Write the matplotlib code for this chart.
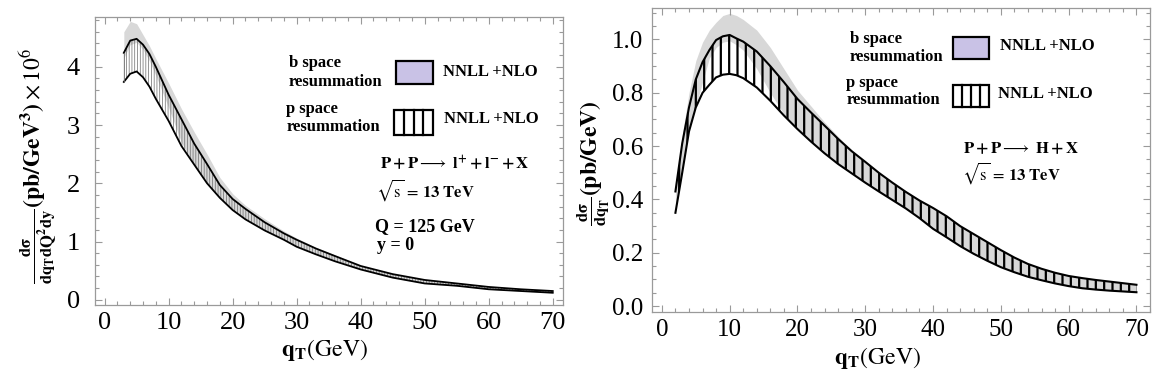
import matplotlib.pyplot as plt
from matplotlib.patches import Rectangle
from matplotlib.lines import Line2D
from matplotlib.ticker import MultipleLocator, FormatStrFormatter

plt.rcParams['font.family'] = ['Liberation Serif', 'DejaVu Serif']
plt.rcParams['mathtext.fontset'] = 'stix'

W, H = 1171, 383

# left panel: P+P -> l+ l- + X, Q = 125 GeV, y = 0
qt_dy = [3, 4, 5, 6, 7, 8, 10, 12, 14, 16, 18, 20, 22, 25, 28, 30, 33, 36, 40, 45, 50, 55, 60, 65, 70]
p_hi_dy = [4.24, 4.45, 4.48, 4.38, 4.22, 4.00, 3.52, 3.10, 2.68, 2.33, 1.97, 1.73, 1.56, 1.33, 1.14,
           1.03, 0.88, 0.75, 0.58, 0.44, 0.34, 0.28, 0.22, 0.18, 0.15]
p_lo_dy = [3.74, 3.88, 3.92, 3.82, 3.66, 3.45, 3.07, 2.64, 2.32, 2.00, 1.75, 1.54, 1.38, 1.19, 1.03,
           0.91, 0.78, 0.66, 0.52, 0.38, 0.28, 0.24, 0.18, 0.15, 0.12]
b_hi_dy = [4.60, 4.78, 4.74, 4.55, 4.36, 4.14, 3.72, 3.28, 2.88, 2.50, 2.10, 1.82, 1.62, 1.39, 1.18,
           1.06, 0.90, 0.77, 0.59, 0.44, 0.34, 0.28, 0.22, 0.18, 0.15]
b_lo_dy = [4.15, 4.38, 4.42, 4.30, 4.10, 3.85, 3.30, 2.70, 2.32, 2.00, 1.75, 1.54, 1.38, 1.19, 1.03,
           0.91, 0.78, 0.66, 0.52, 0.38, 0.28, 0.24, 0.18, 0.15, 0.12]

# right panel: P+P -> H + X
qt_h = [2, 3, 4, 5, 6, 7, 8, 9, 10, 11, 12, 14, 16, 18, 20, 22, 24, 26, 28, 30, 32, 34, 36, 38, 40,
        42, 44, 46, 48, 50, 52, 54, 56, 58, 60, 62, 64, 66, 68, 70]
p_hi_h = [0.43, 0.61, 0.745, 0.85, 0.915, 0.96, 0.998, 1.012, 1.017, 1.004, 0.992, 0.955, 0.90, 0.84,
          0.777, 0.726, 0.677, 0.627, 0.581, 0.541, 0.50, 0.463, 0.428, 0.396, 0.368, 0.337, 0.30,
          0.27, 0.24, 0.21, 0.182, 0.158, 0.14, 0.125, 0.113, 0.105, 0.098, 0.092, 0.086, 0.08]
p_lo_h = [0.35, 0.50, 0.655, 0.745, 0.80, 0.83, 0.858, 0.868, 0.871, 0.866, 0.855, 0.82, 0.77, 0.715,
          0.664, 0.617, 0.573, 0.533, 0.498, 0.463, 0.43, 0.398, 0.366, 0.33, 0.29, 0.258, 0.225,
          0.196, 0.17, 0.146, 0.127, 0.11, 0.097, 0.085, 0.075, 0.067, 0.062, 0.058, 0.055, 0.052]
b_hi_h = [0.45, 0.64, 0.80, 0.92, 0.99, 1.035, 1.065, 1.09, 1.098, 1.09, 1.075, 1.035, 0.97, 0.89,
          0.81, 0.75, 0.69, 0.636, 0.585, 0.541, 0.50, 0.463, 0.428, 0.396, 0.368, 0.337, 0.30,
          0.27, 0.24, 0.21, 0.182, 0.158, 0.14, 0.125, 0.113, 0.105, 0.098, 0.092, 0.086, 0.08]
b_lo_h = [0.355, 0.505, 0.66, 0.75, 0.84, 0.93, 0.97, 0.99, 0.995, 0.98, 0.96, 0.89, 0.80, 0.72,
          0.668, 0.617, 0.573, 0.533, 0.498, 0.463, 0.43, 0.398, 0.366, 0.33, 0.29, 0.258, 0.225,
          0.196, 0.17, 0.146, 0.127, 0.11, 0.097, 0.085, 0.075, 0.067, 0.062, 0.058, 0.055, 0.052]

grey = '#d8d8d8'
lavender = '#c9c2e6'
frame = '#9a9a9a'

fig = plt.figure(figsize=(W / 100, H / 100), dpi=100)
ax1 = fig.add_axes([95 / W, 1 - 305 / H, (563 - 95) / W, (305 - 16.7) / H])
ax2 = fig.add_axes([651.7 / W, 1 - 311.7 / H, (1150 - 651.7) / W, (311.7 - 8.3) / H])


def hatched_band(ax, q, lo, hi, dens, color, lw):
    plt.rcParams['hatch.linewidth'] = lw
    plt.rcParams['hatch.color'] = color
    band = ax.fill_between(q, lo, hi, facecolor='none', edgecolor=color, linewidth=0, hatch=dens)
    if hasattr(band, 'set_hatch_linewidth'):
        band.set_hatch_linewidth(lw)
    return band


# left
ax1.fill_between(qt_dy, b_lo_dy, b_hi_dy, color=grey, linewidth=0)
hatched_band(ax1, qt_dy, p_lo_dy, p_hi_dy, '||||||', '#6a6a6a', 0.5)
ax1.plot(qt_dy, p_hi_dy, color='black', lw=1.3)
ax1.plot(qt_dy, p_lo_dy, color='black', lw=1.3)
ax1.plot([qt_dy[0], qt_dy[0]], [p_lo_dy[0], p_hi_dy[0]], color='#6a6a6a', lw=0.6)

# right
ax2.fill_between(qt_h, b_lo_h, b_hi_h, color=grey, linewidth=0)
hatched_band(ax2, qt_h, p_lo_h, p_hi_h, '||', 'black', 1.6)
ax2.plot(qt_h, p_hi_h, color='black', lw=1.5)
ax2.plot(qt_h, p_lo_h, color='black', lw=1.5)

ax1.set_xlim(-1.5, 71.6)
ax1.set_ylim(-0.09, 4.86)
ax2.set_xlim(-1.5, 72.0)
ax2.set_ylim(-0.021, 1.117)

for ax in (ax1, ax2):
    for s in ax.spines.values():
        s.set_color(frame)
        s.set_linewidth(0.9)
    ax.tick_params(which='both', direction='in', top=True, right=True, color=frame, width=0.8)
    ax.tick_params(which='major', length=5)
    ax.tick_params(which='minor', length=3)
    ax.xaxis.set_major_locator(MultipleLocator(10))
    ax.xaxis.set_minor_locator(MultipleLocator(2))

ax1.yaxis.set_major_locator(MultipleLocator(1))
ax1.yaxis.set_minor_locator(MultipleLocator(0.2))
ax1.tick_params(axis='both', which='major', labelsize=19)
ax1.tick_params(axis='y', pad=11)
ax1.tick_params(axis='x', pad=5)

ax2.yaxis.set_major_locator(MultipleLocator(0.2))
ax2.yaxis.set_minor_locator(MultipleLocator(0.05))
ax2.yaxis.set_major_formatter(FormatStrFormatter('%.1f'))
ax2.tick_params(axis='both', which='major', labelsize=18)
ax2.tick_params(axis='y', pad=6)
ax2.tick_params(axis='x', pad=5)

ax1.set_xlabel(r'$\mathbf{q_T}\mathrm{(GeV)}$', fontsize=17)
ax1.xaxis.set_label_coords(0.49, -0.156)
ax1.xaxis.label.set_va('center')
ax2.set_xlabel(r'$\mathbf{q_T}\mathrm{(GeV)}$', fontsize=17)
ax2.xaxis.set_label_coords(0.454, -0.153)
ax2.xaxis.label.set_va('center')

ax1.set_ylabel(r'$\frac{\mathbf{d\sigma}}{\mathbf{dq_Td Q^2dy}}\mathbf{(pb/GeV^3)}\times10^6$', fontsize=17)
ax1.yaxis.set_label_coords(-0.122, 0.482)
ax1.yaxis.label.set_va('center')
ax2.set_ylabel(r'$\frac{\mathbf{d\sigma}}{\mathbf{dq_T}}\mathbf{(pb/GeV)}$', fontsize=17)
ax2.yaxis.set_label_coords(-0.116, 0.49)
ax2.yaxis.label.set_va('center')


def put(x, y, s, size=12, weight='bold'):
    fig.text(x / W, 1 - y / H, s, ha='left', va='center', fontsize=size, fontweight=weight)


def box(x0, y0, x1, y1, face, lines=0):
    fig.add_artist(Rectangle((x0 / W, 1 - y1 / H), (x1 - x0) / W, (y1 - y0) / H,
                             transform=fig.transFigure, facecolor=face, edgecolor='black', lw=1.6))
    for i in range(1, lines + 1):
        xv = x0 + (x1 - x0) * i / (lines + 1)
        fig.add_artist(Line2D([xv / W, xv / W], [1 - y0 / H, 1 - y1 / H],
                              transform=fig.transFigure, color='black', lw=1.6))


# left legend and notes
put(289, 63, 'b space')
put(289, 82, 'resummation')
box(396, 61, 433, 84, lavender)
put(443, 72, 'NNLL +NLO')
put(286, 109, 'p space')
put(287, 127, 'resummation')
box(394, 110, 433, 135, 'white', 3)
put(444, 119, 'NNLL +NLO')
put(380, 163, r'$\mathbf{P+P}\longrightarrow\ \mathbf{l^{+}+l^{-}+X}$', size=12)
put(376, 190, r'$\sqrt{\mathrm{s}}\,=\,\mathbf{13\ TeV}$', size=12)
put(375, 227, 'Q = 125 GeV', size=13)
put(377, 246, 'y = 0', size=13)

# right legend and notes
put(850, 39, 'b space')
put(850, 57, 'resummation')
box(953, 37, 989, 59, lavender)
put(1000, 46, 'NNLL +NLO')
put(846, 83, 'p space')
put(847, 100, 'resummation')
box(953, 85, 989, 107, 'white', 3)
put(998, 94, 'NNLL +NLO')
put(963, 149, r'$\mathbf{P+P}\longrightarrow\ \mathbf{H+X}$', size=12)
put(962, 173, r'$\sqrt{\mathrm{s}}\,=\,\mathbf{13\ TeV}$', size=12)

fig.savefig('out.png', dpi=100)
